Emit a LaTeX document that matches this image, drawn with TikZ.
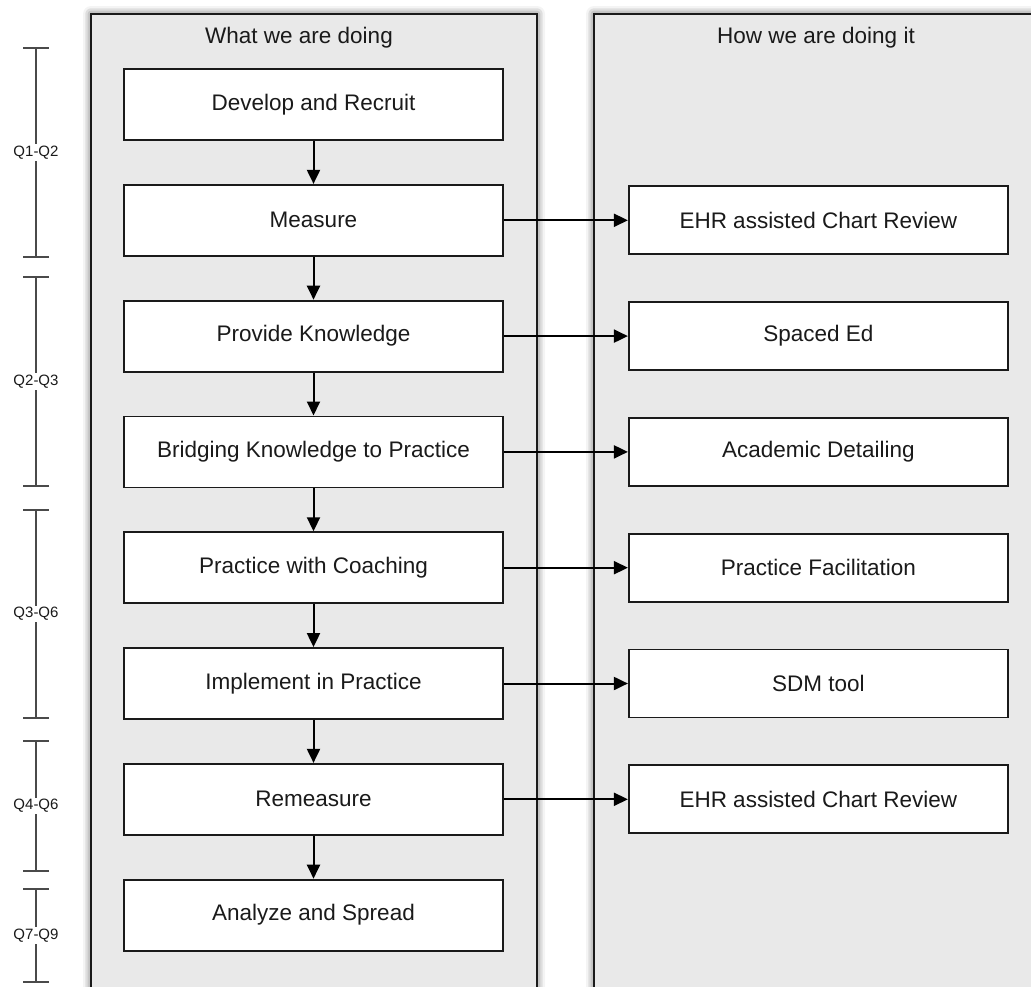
\documentclass[tikz,border=0pt]{standalone}
\usepackage{fontspec}
\setmainfont{Liberation Sans}
\usetikzlibrary{positioning,arrows.meta,shadows.blur}
\definecolor{LaneGray}{HTML}{E9E9E9}
\definecolor{InkDark}{HTML}{1A1A1A}
\definecolor{TickGray}{HTML}{4A4A4A}

\begin{document}
\begin{tikzpicture}[x=1pt, y=-1pt,
    lane/.style={draw=InkDark, line width=2pt, fill=LaneGray,
                 minimum height=1000pt, anchor=north west, inner sep=0pt,
                 blur shadow={shadow xshift=0pt, shadow yshift=0pt,
                              shadow blur radius=8pt, shadow opacity=70}},
    head/.style={font=\fontsize{22.5}{27}\selectfont, text=InkDark},
    what/.style={draw=InkDark, line width=1.8pt, fill=white,
                 minimum width=379pt, minimum height=71pt, inner sep=2pt,
                 font=\fontsize{22.5}{27}\selectfont, text=InkDark},
    how/.style={what, minimum height=68pt},
    ar/.style={-{Triangle[length=14pt,width=13pt]}, line width=2pt, black},
    span/.style={{Bar[width=26pt]}-{Bar[width=26pt]}, line width=2pt, TickGray},
    qlbl/.style={fill=white, inner sep=1.5pt,
                 font=\fontsize{15}{17}\selectfont, text=InkDark},
    node distance=43pt and 124pt,
  ]
    \useasboundingbox (0,0) rectangle (1031,987);
    \clip (0,0) rectangle (1031,987);

    % -- swimlanes --------------------------------------------------------
    \node[lane, minimum width=446pt] (doing) at (90,13) {};
    \node[lane, minimum width=444pt] (howdo) at (593,13) {};
    \node[head] (hdoing) at ([shift={(-15,25)}]doing.north) {What we are doing};
    \node[head] (hhowdo) at ([shift={(0,25)}]howdo.north) {How we are doing it};

    % -- what we are doing -----------------------------------------------
    \node[what] (dev) at (313.5,104.5) {Develop and Recruit};
    \node[what, below=of dev]  (meas)  {Measure};
    \node[what, below=of meas] (know)  {Provide Knowledge};
    \node[what, below=of know] (bridge){Bridging Knowledge to Practice};
    \node[what, below=of bridge] (coach) {Practice with Coaching};
    \node[what, below=of coach]  (impl)  {Implement in Practice};
    \node[what, below=of impl]   (remeas){Remeasure};
    \node[what, below=of remeas] (spread){Analyze and Spread};

    % -- how we are doing it ---------------------------------------------
    \node[how, right=of meas]   (ehra) {EHR assisted Chart Review};
    \node[how, right=of know]   (sped) {Spaced Ed};
    \node[how, right=of bridge] (acad) {Academic Detailing};
    \node[how, right=of coach]  (facil){Practice Facilitation};
    \node[how, right=of impl]   (sdm)  {SDM tool};
    \node[how, right=of remeas] (ehrb) {EHR assisted Chart Review};

    % -- arrows -----------------------------------------------------------
    \foreach \a/\b in {dev/meas, meas/know, know/bridge, bridge/coach,
                       coach/impl, impl/remeas, remeas/spread}
      \draw[ar] (\a) -- (\b);
    \foreach \a/\b in {meas/ehra, know/sped, bridge/acad, coach/facil,
                       impl/sdm, remeas/ehrb}
      \draw[ar] (\a) -- (\b);

    % -- timeline ---------------------------------------------------------
    \foreach \top/\bot/\q in {47/258/Q1-Q2, 276/487/Q2-Q3, 509/719/Q3-Q6,
                              740/872/Q4-Q6, 888/983/Q7-Q9}
      \draw[span] (36,\top) -- node[qlbl] {\q} (36,\bot);
\end{tikzpicture}
\end{document}
